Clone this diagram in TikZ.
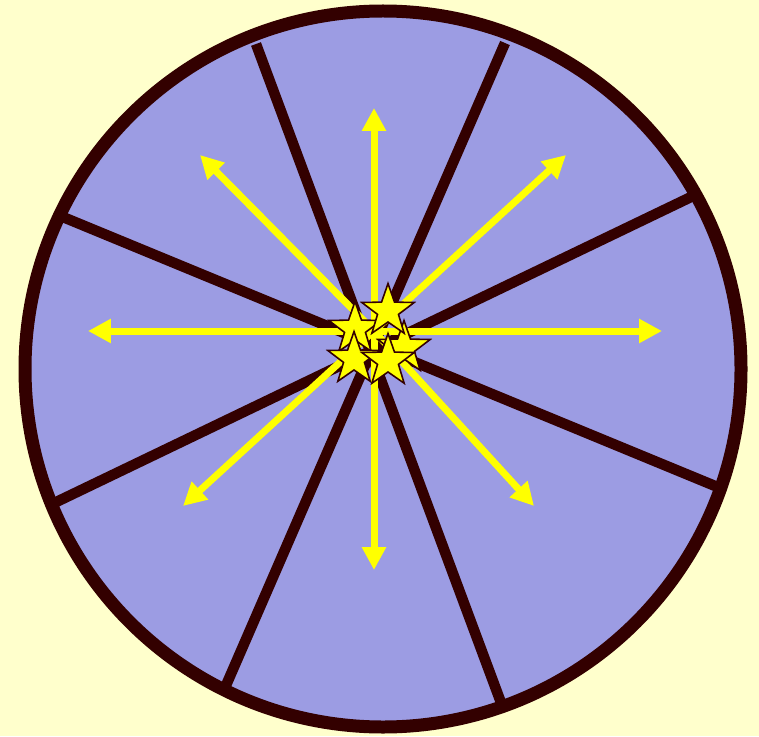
\documentclass[tikz,border=0pt]{standalone}
\usetikzlibrary{shapes.geometric,arrows.meta}
\definecolor{wheelbg}{RGB}{255,255,204}
\definecolor{wheelblue}{RGB}{156,156,227}
\definecolor{wheelrim}{RGB}{51,0,0}
\definecolor{rayyellow}{RGB}{255,255,0}

\begin{document}
\begin{tikzpicture}[
    x=0.02cm, y=-0.02cm,
    rim/.style={draw=wheelrim, line width=0.26cm},
    spoke/.style={draw=wheelrim, line width=0.21cm},
    ray/.style={draw=rayyellow, line width=0.14cm, -{Triangle[length=0.46cm, width=0.46cm]}},
    spark/.style={star, star points=5, star point ratio=2.5, minimum size=1.1cm, inner sep=0pt, draw=wheelrim, line width=0.9pt, fill=rayyellow}
]

% Background
\fill[wheelbg] (0,0) rectangle (759,736);
\useasboundingbox (0,0) rectangle (759,736);

% Wheel
\coordinate (hub) at (383,369);
\fill[wheelblue] (hub) circle (358);

% Spokes
\coordinate (s1a) at (256,44);  \coordinate (s1b) at (503,708);
\coordinate (s2a) at (505,43);  \coordinate (s2b) at (224,690);
\coordinate (s3a) at (691,197); \coordinate (s3b) at (50,505);
\coordinate (s4a) at (58,215);  \coordinate (s4b) at (720,488);
\draw[spoke] (s1a) -- (s1b);
\draw[spoke] (s2a) -- (s2b);
\draw[spoke] (s3a) -- (s3b);
\draw[spoke] (s4a) -- (s4b);

\draw[rim] (hub) circle (358);

% Rays
\coordinate (core) at (374,331);
\coordinate (up) at (374,108);
\coordinate (down) at (374,570);
\coordinate (left) at (88,331);
\coordinate (right) at (662,331);
\coordinate (upleft) at (200,155);
\coordinate (upright) at (566,155);
\coordinate (downleft) at (183,506);
\coordinate (downright) at (534,506);
\foreach \tip in {up,down,left,right,upleft,upright,downleft,downright}
    \draw[ray] (core) -- (\tip);

% Stars
\node[spark] (starE) at (404,348) {};
\node[spark] (starW) at (355,329) {};
\node[spark] (starN) at (388,311) {};
\node[spark] (starSW) at (354,359) {};
\node[spark] (starSE) at (388,361) {};

\end{tikzpicture}
\end{document}
